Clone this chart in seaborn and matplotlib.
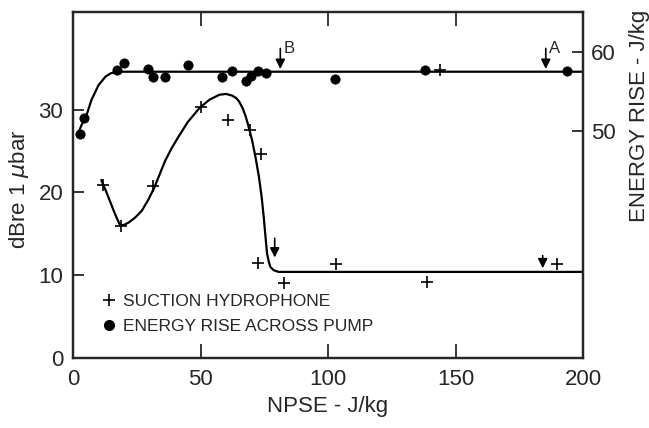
import numpy as np
import pandas as pd
import matplotlib
matplotlib.use("Agg")
import matplotlib.pyplot as plt
from matplotlib.lines import Line2D
import seaborn as sns

# suction hydrophone readings (dB re 1 ubar) vs NPSE
hydro_x = [11.6, 18.8, 31.4, 50.0, 60.6, 69.4, 73.6, 72.5, 82.7, 103.0, 139.0, 143.9, 189.7]
hydro_y = [20.9, 16.0, 20.8, 30.3, 28.8, 27.6, 24.6, 11.5, 9.1, 11.3, 9.2, 34.8, 11.4]

# energy rise across pump (J/kg) vs NPSE
energy_x = [2.7, 4.4, 17.4, 20.0, 29.4, 31.5, 36.1, 45.0, 58.6, 62.5, 67.8, 69.7,
            72.4, 75.7, 102.6, 138.1, 193.9]
energy_y = [49.6, 51.6, 57.7, 58.6, 57.8, 56.8, 56.8, 58.3, 56.8, 57.6, 56.3, 57.0,
            57.6, 57.3, 56.6, 57.7, 57.6]

# hand-drawn fitted curves
hydro_curve_x = [11.1, 13.0, 14.8, 16.6, 18.5, 20.2, 22.0, 24.5, 27.0, 29.5, 31.9, 34.0,
                 36.1, 38.6, 41.1, 45.0, 49.6, 53.5, 57.4, 60.0, 62.4, 64.0, 65.1, 66.5,
                 67.7, 69.0, 70.3, 71.6, 72.9, 74.0, 74.8, 75.5, 76.1, 76.8, 77.4, 78.7,
                 80.6, 84.5, 200.0]
hydro_curve_y = [21.5, 20.1, 18.7, 17.3, 16.0, 16.1, 16.4, 17.0, 17.8, 19.1, 20.6, 22.2,
                 23.8, 25.3, 26.6, 28.5, 30.2, 31.2, 31.8, 31.9, 31.7, 31.4, 31.0, 30.2,
                 29.2, 27.8, 26.2, 24.2, 21.9, 19.4, 17.0, 14.6, 12.6, 11.6, 11.0, 10.6,
                 10.4, 10.4, 10.4]
energy_curve_x = [1.7, 3.4, 5.1, 7.2, 10.0, 12.8, 14.8, 17.1, 19.9, 200.0]
energy_curve_y = [49.4, 50.8, 51.8, 53.9, 55.8, 56.9, 57.3, 57.5, 57.5, 57.5]

# arrows: (x, y_from, y_to, label)
energy_arrows = [(81.3, 60.8, 57.5, "B"), (185.4, 60.8, 57.5, "A")]
hydro_arrows = [(79.1, 14.8, 11.8), (184.2, 12.7, 10.5)]

sns.set_style("ticks")
plt.rcParams["font.family"] = ["Liberation Sans", "DejaVu Sans"]

fig = plt.figure(figsize=(6.49, 4.28), dpi=100)
ax = fig.add_axes([0.1125, 0.1636, 0.7858, 0.8084])
ax2 = ax.twinx()

hydro = pd.DataFrame({"npse": hydro_x, "db": hydro_y})
energy = pd.DataFrame({"npse": energy_x, "rise": energy_y})

sns.lineplot(x=hydro_curve_x, y=hydro_curve_y, ax=ax, color="black", lw=1.6,
             sort=False, estimator=None)
sns.scatterplot(data=hydro, x="npse", y="db", ax=ax, marker="+", s=70,
                color="black", linewidth=1.2)

sns.lineplot(x=energy_curve_x, y=energy_curve_y, ax=ax2, color="black", lw=1.6,
             sort=False, estimator=None)
sns.scatterplot(data=energy, x="npse", y="rise", ax=ax2, marker="o", s=45,
                color="black", edgecolor="black")

for x, y0, y1, lab in energy_arrows:
    ax2.annotate("", xy=(x, y1), xytext=(x, y0),
                 arrowprops=dict(arrowstyle="-|>", color="black", lw=1.2, mutation_scale=14))
    ax2.text(x + 1.2, y0 - 0.4, lab, fontsize=12, ha="left", va="center")
for x, y0, y1 in hydro_arrows:
    ax.annotate("", xy=(x, y1), xytext=(x, y0),
                arrowprops=dict(arrowstyle="-|>", color="black", lw=1.2, mutation_scale=14))

ax.set_xlim(0, 200)
ax.set_ylim(0, 41.8)
ax2.set_ylim(21.27, 65.06)
ax.set_xticks([0, 50, 100, 150, 200])
ax.set_yticks([0, 10, 20, 30])
ax2.set_yticks([50, 60])

ax.tick_params(axis="x", direction="in", length=10, width=1.3, labelsize=16, pad=8,
               top=True)
ax.tick_params(axis="y", direction="in", length=8, width=1.3, labelsize=16, pad=7)
ax2.tick_params(axis="y", direction="in", length=8, width=1.3, labelsize=16, pad=6)

for a in (ax, ax2):
    for sp in a.spines.values():
        sp.set_visible(True)
        sp.set_linewidth(1.6)

ax.set_xlabel("NPSE - J/kg", fontsize=16, labelpad=4)
ax.set_ylabel("dBre 1 $\\mu$bar", fontsize=16)
ax.yaxis.set_label_coords(-0.082, 0.488)
ax2.set_ylabel("ENERGY RISE - J/kg", fontsize=16)
ax2.yaxis.set_label_coords(1.09, 0.70)

handles = [
    Line2D([], [], marker="+", ls="", color="black", markersize=9, markeredgewidth=1.2),
    Line2D([], [], marker="o", ls="", color="black", markersize=7),
]
ax2.legend(handles, ["SUCTION HYDROPHONE", "ENERGY RISE ACROSS PUMP"],
           loc="lower left", bbox_to_anchor=(0.054, 0.068), frameon=False,
           fontsize=12.5, handlelength=1.0, handletextpad=0.3, labelspacing=0.6,
           borderpad=0, borderaxespad=0)

fig.savefig("out.png", dpi=100)
